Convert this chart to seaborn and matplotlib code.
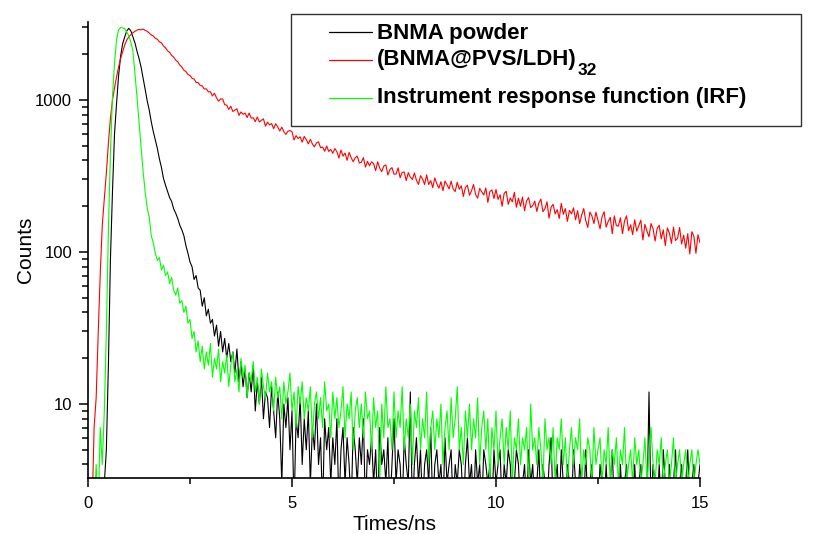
import numpy as np
import pandas as pd
import matplotlib
matplotlib.use("Agg")
import matplotlib.pyplot as plt
from matplotlib.lines import Line2D
from matplotlib.patches import Rectangle
from matplotlib.ticker import FixedLocator, LogLocator, NullFormatter, FuncFormatter
import seaborn as sns

# === DATA (one value per 0.05 ns channel) ===
T_STEP = 0.05
SERIES = ["BNMA powder", "(BNMA@PVS/LDH)32", "Instrument response function (IRF)"]
LEGEND_TEXT = ["BNMA powder", "(BNMA@PVS/LDH)", "Instrument response function (IRF)"]
LEGEND_SUB = "32"
COLORS = ["#000000", "#ff0000", "#00ff00"]

bnma_powder = [
    1, 2, 1, 2, 1, 2, 1, 2, 3, 5, 18, 90, 250, 600, 950, 1450, 1950, 2350, 2600, 2850,
    2960, 2850, 2600, 2380, 2100, 1880, 1650, 1400, 1180, 990, 860, 720, 620, 545, 480, 410, 360, 305, 275, 250,
    228, 215, 192, 180, 166, 150, 140, 128, 110, 98, 86, 80, 66, 70, 58, 56, 44, 50, 38, 42,
    34, 36, 28, 33, 24, 30, 22, 27, 20, 25, 19, 22, 16, 23, 14, 19, 13, 17, 11, 16,
    12, 18, 9, 14, 10, 15, 8, 12, 11, 7, 13, 9, 6, 12, 8, 3, 10, 7, 11, 5,
    9, 2, 8, 6, 11, 4, 8, 5, 9, 3, 7, 5, 10, 4, 6, 2, 8, 5, 7, 3,
    6, 4, 8, 2, 5, 7, 3, 6, 4, 2, 7, 5, 3, 6, 4, 8, 2, 5, 4, 6,
    3, 5, 2, 7, 4, 5, 3, 6, 2, 4, 8, 3, 5, 4, 2, 6, 4, 3, 12, 2,
    4, 6, 3, 5, 2, 4, 5, 3, 7, 2, 4, 5, 3, 4, 2, 6, 3, 4, 5, 2,
    4, 3, 5, 4, 2, 4, 6, 3, 4, 2, 5, 3, 4, 2, 5, 4, 3, 4, 2, 5,
    3, 4, 5, 2, 4, 3, 5, 4, 2, 3, 5, 4, 2, 3, 4, 2, 5, 3, 4, 2,
    3, 5, 2, 4, 3, 2, 4, 6, 2, 3, 4, 2, 5, 3, 2, 4, 3, 2, 5, 3,
    2, 4, 3, 2, 5, 2, 3, 4, 2, 3, 2, 4, 3, 2, 4, 2, 3, 5, 2, 3,
    2, 4, 2, 3, 4, 2, 3, 2, 4, 2, 3, 4, 2, 3, 2, 12, 2, 4, 3, 2,
    4, 2, 5, 3, 2, 4, 2, 3, 5, 2, 3, 4, 2, 3, 5, 2, 3, 4, 2, 3,
    4,
]

bnma_film = [
    1, 1, 2, 7, 11, 29, 72, 150, 225, 330, 520, 760, 1000, 1200, 1420, 1650, 1880, 2080, 2300, 2480,
    2600, 2690, 2770, 2830, 2880, 2915, 2895, 2925, 2870, 2835, 2760, 2680, 2640, 2545, 2510, 2415, 2375, 2265, 2205, 2105,
    2060, 1965, 1915, 1830, 1785, 1700, 1650, 1570, 1540, 1470, 1450, 1390, 1375, 1305, 1300, 1245, 1240, 1180, 1185, 1130,
    1134, 1064, 1108, 1032, 983, 1016, 1016, 932, 925, 867, 910, 841, 859, 876, 792, 835, 805, 821, 767, 821,
    760, 764, 721, 773, 717, 735, 751, 673, 715, 686, 700, 648, 698, 665, 626, 663, 619, 594, 623, 630,
    618, 546, 583, 558, 573, 528, 576, 548, 515, 551, 514, 492, 522, 531, 486, 490, 460, 498, 459, 473,
    446, 479, 457, 415, 469, 427, 448, 401, 452, 417, 393, 418, 427, 385, 389, 418, 362, 395, 369, 392,
    381, 343, 392, 356, 338, 368, 374, 321, 349, 359, 325, 326, 358, 308, 334, 336, 295, 333, 311, 300,
    331, 297, 278, 318, 302, 278, 322, 278, 295, 265, 307, 281, 263, 290, 253, 293, 277, 260, 292, 260,
    250, 288, 259, 273, 232, 266, 275, 236, 253, 278, 239, 226, 262, 249, 237, 264, 212, 250, 256, 225,
    258, 222, 238, 200, 243, 251, 206, 227, 214, 247, 197, 226, 200, 230, 187, 217, 228, 196, 202, 216,
    185, 210, 223, 184, 193, 214, 167, 197, 206, 178, 190, 166, 209, 177, 193, 159, 188, 178, 195, 163,
    187, 154, 175, 193, 161, 145, 183, 173, 154, 183, 161, 142, 171, 184, 146, 159, 169, 132, 173, 149,
    148, 168, 132, 160, 173, 138, 151, 130, 163, 137, 149, 162, 120, 152, 137, 126, 154, 142, 118, 143,
    150, 122, 140, 110, 144, 133, 114, 146, 119, 123, 145, 113, 129, 106, 132, 97, 136, 127, 98, 130,
    115,
]

irf = [
    1, 2, 1, 2, 4, 2, 7, 4, 9, 30, 140, 450, 1050, 1750, 2500, 2900, 3000, 2980, 2950, 2800,
    2650, 2400, 2100, 1500, 1050, 720, 500, 340, 250, 195, 170, 128, 115, 98, 88, 92, 76, 82, 70, 74,
    62, 68, 56, 52, 58, 46, 48, 40, 44, 34, 36, 27, 30, 22, 26, 19, 24, 17, 22, 18,
    25, 15, 20, 17, 23, 14, 19, 16, 21, 13, 18, 22, 14, 17, 12, 20, 15, 18, 11, 16,
    14, 19, 12, 15, 10, 17, 13, 11, 16, 12, 14, 9, 15, 11, 13, 8, 14, 10, 12, 16,
    9, 12, 7, 13, 10, 14, 8, 11, 9, 13, 6, 10, 12, 8, 11, 7, 14, 9, 10, 6,
    12, 8, 11, 7, 9, 13, 6, 10, 8, 12, 5, 9, 11, 7, 10, 6, 12, 8, 9, 5,
    11, 7, 9, 3, 10, 6, 13, 7, 8, 5, 12, 6, 9, 7, 13, 5, 8, 6, 10, 4,
    9, 7, 11, 5, 8, 6, 12, 4, 7, 9, 5, 8, 6, 10, 4, 7, 9, 5, 11, 6,
    8, 13, 5, 7, 4, 9, 6, 10, 5, 8, 6, 11, 4, 7, 9, 5, 8, 3, 7, 5,
    9, 4, 6, 8, 4, 7, 5, 9, 3, 6, 5, 8, 4, 6, 5, 7, 3, 10, 5, 6,
    4, 7, 5, 3, 8, 5, 6, 4, 7, 3, 6, 5, 8, 4, 6, 3, 5, 7, 4, 6,
    5, 8, 3, 5, 4, 6, 5, 3, 7, 4, 5, 6, 3, 5, 4, 7, 3, 5, 4, 6,
    3, 5, 4, 7, 3, 4, 5, 3, 6, 4, 5, 3, 4, 6, 3, 5, 7, 4, 3, 5,
    4, 6, 3, 4, 5, 3, 4, 6, 3, 4, 5, 3, 4, 5, 3, 4, 5, 3, 4, 5,
    4,
]

# === STYLE ===
sns.set_theme(style="ticks")
plt.rcParams["font.family"] = ["Liberation Sans", "DejaVu Sans"]

frames = []
for name, vals in zip(SERIES, [bnma_powder, bnma_film, irf]):
    frames.append(pd.DataFrame({"t": np.arange(len(vals)) * T_STEP, "counts": vals, "sample": name}))
df = pd.concat(frames, ignore_index=True)

W, H = 813, 534
fx = lambda px: px / W
fy = lambda py: 1 - py / H

fig = plt.figure(figsize=(W / 100, H / 100), dpi=100)
ax = fig.add_axes([fx(88), 56 / H, 612 / W, 456 / H])

sns.lineplot(data=df, x="t", y="counts", hue="sample", palette=COLORS,
             estimator=None, sort=False, lw=0.8, legend=False, ax=ax)

ax.set_yscale("log")
ax.set_xlim(0, 15)
ax.set_ylim(3.26, 3260)
ax.xaxis.set_major_locator(FixedLocator([0, 5, 10, 15]))
ax.xaxis.set_minor_locator(FixedLocator([2.5, 7.5, 12.5]))
ax.yaxis.set_major_locator(FixedLocator([10, 100, 1000]))
ax.yaxis.set_minor_locator(LogLocator(base=10, subs=np.arange(2, 10), numticks=20))
ax.yaxis.set_major_formatter(FuncFormatter(lambda v, p: f"{v:g}"))
ax.yaxis.set_minor_formatter(NullFormatter())

sns.despine(ax=ax)
for s in ["left", "bottom"]:
    ax.spines[s].set_linewidth(1.2)
    ax.spines[s].set_color("black")
ax.tick_params(axis="both", which="major", direction="out", length=6.5, width=1.1,
               labelsize=12, colors="black")
ax.tick_params(axis="both", which="minor", direction="out", length=4, width=1.1, colors="black")
ax.tick_params(axis="x", which="major", pad=6.5)
ax.tick_params(axis="y", which="major", pad=5)

ax.set_xlabel("Times/ns", fontsize=15, labelpad=3, color="black")
ax.set_ylabel("Counts", fontsize=15, labelpad=0, color="black")

# legend box: handles, bold labels, subscript drawn by hand
rows = [(32.3, 39.3), (60.3, 65.0), (97.7, 103.3)]  # (handle y, text baseline) in px
texts = []
for (hy, ty), c, lab in zip(rows, COLORS, LEGEND_TEXT):
    fig.add_artist(Line2D([fx(329), fx(372)], [fy(hy), fy(hy)], transform=fig.transFigure,
                          color=c, lw=0.9))
    texts.append(fig.text(fx(377), fy(ty), lab, fontsize=16, fontweight="bold",
                          va="baseline", ha="left", color="black"))
fig.canvas.draw()
bb = texts[1].get_window_extent()
fig.text(fx(bb.x1 + 1), fy(75), LEGEND_SUB, fontsize=12.5, fontweight="bold",
         va="baseline", ha="left", color="black")
fig.add_artist(Rectangle((fx(291), fy(126)), (801 - 291) / W, (126 - 14) / H,
                         transform=fig.transFigure, fill=False, ec="#333333", lw=1.0))

fig.savefig("out.png", dpi=100)
